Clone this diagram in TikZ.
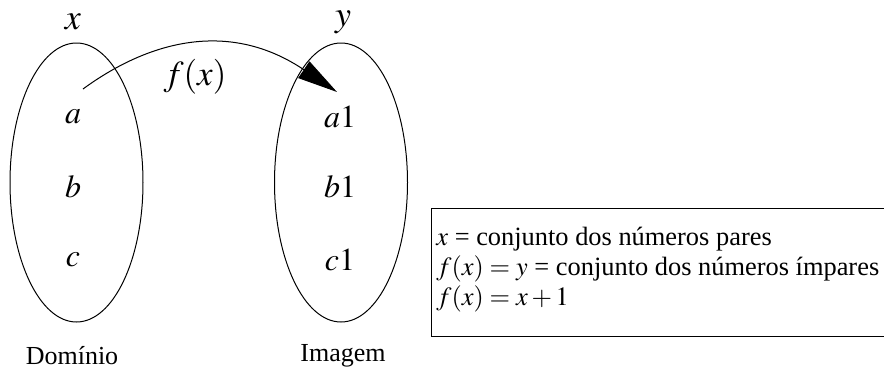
\documentclass[tikz,border=0pt]{standalone}
\usepackage{mathptmx}
\usepackage{fontspec}
\setmainfont{Liberation Serif}
\usetikzlibrary{shapes.geometric,arrows.meta}
\begin{document}
\begin{tikzpicture}[x=0.5pt,y=-0.5pt,
  setbox/.style={draw,ellipse,inner sep=0pt,minimum width=66.5pt,minimum height=139.5pt,line width=0.5pt},
  elem/.style={inner sep=0pt,font=\fontsize{16}{18}\selectfont},
  setname/.style={inner sep=0pt,font=\fontsize{18}{20}\selectfont},
  caption/.style={inner sep=0pt,font=\fontsize{13}{15}\selectfont},
  mapping/.style={line width=0.5pt,-{Triangle[length=20pt,width=10pt]}}]
\useasboundingbox (0,0) rectangle (884,370);
\node[setbox] (dom) at (76.5,182.5) {};
\node[setbox] (img) at (341,182.5) {};
\node[setname] (lx) at (73,22) {$x$};
\node[setname] (ly) at (343,22) {$y$};
\node[elem] (a) at (73,117) {$a$};
\node[elem] (b) at (73,187) {$b$};
\node[elem] (c) at (73,260) {$c$};
\node[elem] (a1) at (340,117) {$a1$};
\node[elem] (b1) at (340,187) {$b1$};
\node[elem] (c1) at (340,260) {$c1$};
\node[setname,font=\fontsize{17.5}{20}\selectfont] (fx) at (195,77) {$f(x)$};
\coordinate (s) at (83,89);
\coordinate (t) at (337,92);
\draw[mapping] (s) .. controls (150,40) and (230,20) .. (t);
\node[caption] (dlab) at (72,356) {Domínio};
\node[caption] (ilab) at (343,356) {Imagem};
\draw[line width=0.5pt] (900,208) -- (431,208) -- (431,336) -- (900,336);
\node[caption,anchor=west,align=left,font=\fontsize{13.2}{15}\selectfont] (legend) at (436,270)
  {$x$ = conjunto dos números pares\\ $f(x)=y$ = conjunto dos números ímpares\\ $f(x)=x+1$};
\end{tikzpicture}
\end{document}
